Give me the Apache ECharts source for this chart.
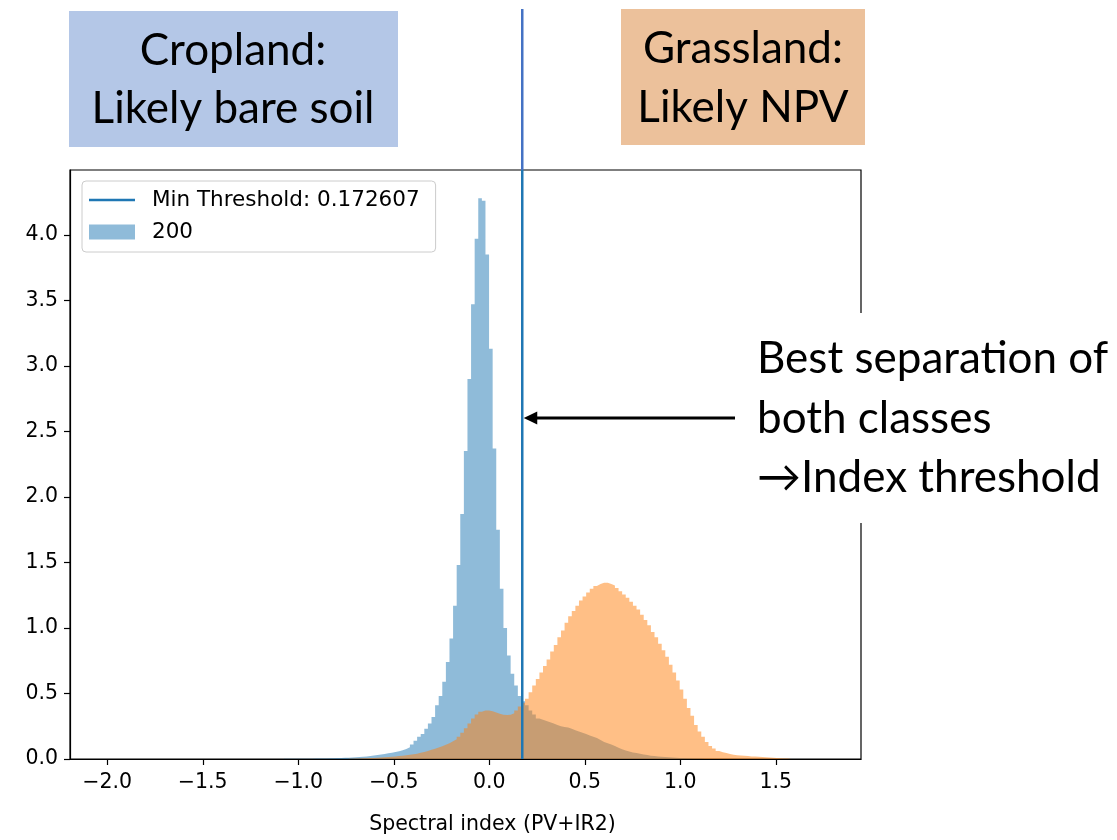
<!DOCTYPE html>
<html>
<head>
<meta charset="utf-8">
<script src="https://cdn.jsdelivr.net/npm/echarts@6/dist/echarts.min.js"></script>
<style>
  html, body { margin: 0; padding: 0; background: #fff; }
  #main { width: 1117px; height: 840px; }
</style>
</head>
<body>
<div id="main"></div>
<script>
// histogram bins (200 bins over the data range)
const binStart = -2.016;
const binWidth = 0.01883;

// cropland (blue) density, starting at bin 50
const blueFirstBin = 50;
const blueDensity = [
  0.001, 0.001, 0.001, 0.001, 0.002, 0.002, 0.002, 0.002, 0.003, 0.003,
  0.004, 0.004, 0.005, 0.006, 0.007, 0.008, 0.009, 0.010, 0.012, 0.014,
  0.016, 0.018, 0.020, 0.023, 0.026, 0.030, 0.034, 0.038, 0.043, 0.048,
  0.054, 0.060, 0.067, 0.076, 0.090, 0.110, 0.140, 0.170, 0.190, 0.230,
  0.27, 0.32, 0.41, 0.48, 0.59, 0.74, 0.92, 1.17, 1.48, 1.87,
  2.35, 2.90, 3.47, 3.97, 4.28, 4.26, 3.85, 3.13, 2.37, 1.75,
  1.30, 1.00, 0.79, 0.65, 0.56, 0.48, 0.44, 0.41, 0.37, 0.34,
  0.31, 0.30, 0.29, 0.28, 0.27, 0.26, 0.25, 0.245, 0.24, 0.23,
  0.22, 0.21, 0.20, 0.19, 0.18, 0.17, 0.16, 0.145, 0.13, 0.12,
  0.11, 0.10, 0.085, 0.075, 0.065, 0.057, 0.050, 0.045, 0.040, 0.035,
  0.030, 0.025, 0.022, 0.020, 0.017, 0.015, 0.013, 0.011, 0.010, 0.008,
  0.007, 0.006, 0.005, 0.004, 0.003, 0.003, 0.002
];

// grassland (orange) density, starting at bin 68
const orangeFirstBin = 68;
const orangeDensity = [
  0.002, 0.003, 0.004, 0.005, 0.006, 0.007, 0.008, 0.010, 0.011, 0.013,
  0.015, 0.017, 0.020, 0.022, 0.025, 0.028, 0.032, 0.036, 0.041, 0.047,
  0.054, 0.062, 0.070, 0.078, 0.087, 0.097, 0.108, 0.120, 0.135, 0.150,
  0.17, 0.20, 0.235, 0.27, 0.31, 0.34, 0.36, 0.37, 0.37, 0.365,
  0.355, 0.345, 0.337, 0.335, 0.337, 0.35, 0.37, 0.40, 0.43, 0.46,
  0.51, 0.56, 0.61, 0.66, 0.71, 0.76, 0.82, 0.87, 0.93, 0.98,
  1.04, 1.09, 1.13, 1.17, 1.21, 1.24, 1.27, 1.30, 1.32, 1.335,
  1.345, 1.345, 1.335, 1.325, 1.305, 1.28, 1.255, 1.23, 1.20, 1.17,
  1.14, 1.10, 1.06, 1.02, 0.97, 0.93, 0.88, 0.83, 0.78, 0.72,
  0.66, 0.60, 0.53, 0.46, 0.39, 0.33, 0.26, 0.21, 0.17, 0.13,
  0.10, 0.08, 0.062, 0.052, 0.045, 0.038, 0.033, 0.029, 0.026, 0.024,
  0.022, 0.020, 0.019, 0.017, 0.015, 0.014, 0.012, 0.010, 0.008, 0.006,
  0.004, 0.003, 0.002
];

const threshold = 0.172607;
const xTicks = [-2.0, -1.5, -1.0, -0.5, 0.0, 0.5, 1.0, 1.5];
const yTicks = [0.0, 0.5, 1.0, 1.5, 2.0, 2.5, 3.0, 3.5, 4.0];
const xMin = -2.195, xMax = 1.946;
const yMax = 4.495;

// step outline: one point per bin left edge, plus closing edge
function stepData(firstBin, vals) {
  const pts = vals.map((v, i) => [binStart + (firstBin + i) * binWidth, v]);
  pts.push([binStart + (firstBin + vals.length) * binWidth, 0]);
  return pts;
}

const mplFont = 'DejaVu Sans';
const slideFont = '44px Lato';

var myChart = echarts.init(document.getElementById('main'));

const fmt = v => (v < 0 ? '\u2212' : '') + Math.abs(v).toFixed(1);

myChart.setOption({
  animation: false,
  backgroundColor: '#fff',
  grid: { left: 70, right: 256, top: 170, bottom: 80, show: true, borderColor: '#000', borderWidth: 1.2, backgroundColor: 'transparent' },
  legend: {
    orient: 'vertical',
    left: 82,
    top: 181,
    padding: [8, 16, 9, 7],
    itemGap: 10,
    itemWidth: 46,
    itemHeight: 15,
    backgroundColor: 'rgba(255,255,255,0.85)',
    borderColor: '#cccccc',
    borderWidth: 1,
    borderRadius: 4,
    selectedMode: false,
    textStyle: { fontFamily: mplFont, fontSize: 21.5, color: '#000', padding: [0, 0, 0, 12], lineHeight: 22 },
    data: [
      { name: 'Min Threshold: ' + threshold, icon: 'path://M0,0H46V2.5H0Z', itemStyle: { color: '#1f77b4' } },
      { name: '200', icon: 'rect', itemStyle: { color: 'rgba(31,119,180,0.5)', opacity: 1 } }
    ]
  },
  xAxis: {
    type: 'value',
    min: xMin,
    max: xMax,
    name: 'Spectral index (PV+IR2)',
    nameLocation: 'middle',
    nameGap: 55,
    nameTextStyle: { fontFamily: mplFont, fontSize: 20.5, color: '#000', padding: [0, 0, 0, 54] },
    axisLine: { show: true, onZero: false, lineStyle: { color: '#000', width: 1.2 } },
    axisTick: { show: true, inside: false, length: 6, customValues: xTicks, lineStyle: { color: '#000', width: 1.2 } },
    axisLabel: { show: true, margin: 13, customValues: xTicks, formatter: fmt, fontFamily: mplFont, fontSize: 20.5, color: '#000' },
    splitLine: { show: false }
  },
  yAxis: {
    type: 'value',
    min: 0,
    max: yMax,
    axisLine: { show: true, onZero: false, lineStyle: { color: '#000', width: 1.2 } },
    axisTick: { show: true, inside: false, length: 6, customValues: yTicks, lineStyle: { color: '#000', width: 1.2 } },
    axisLabel: { show: true, margin: 12, customValues: yTicks, formatter: fmt, fontFamily: mplFont, fontSize: 20.5, color: '#000' },
    splitLine: { show: false }
  },
  series: [
    {
      name: '200',
      type: 'line',
      step: 'end',
      symbol: 'none',
      silent: true,
      color: '#1f77b4',
      lineStyle: { width: 0, opacity: 0 },
      areaStyle: { color: '#1f77b4', opacity: 0.5 },
      data: stepData(blueFirstBin, blueDensity),
      z: 1
    },
    {
      name: 'grassland',
      type: 'line',
      step: 'end',
      symbol: 'none',
      silent: true,
      color: '#ff7f0e',
      lineStyle: { width: 0, opacity: 0 },
      areaStyle: { color: '#ff7f0e', opacity: 0.5 },
      data: stepData(orangeFirstBin, orangeDensity),
      z: 2
    },
    {
      name: 'Min Threshold: ' + threshold,
      type: 'line',
      symbol: 'none',
      silent: true,
      color: '#1f77b4',
      lineStyle: { color: '#1f77b4', width: 2.5 },
      data: [[threshold, 0], [threshold, yMax]],
      z: 3
    }
  ]
});

// slide annotations around the plot
const thrX = myChart.convertToPixel({ xAxisIndex: 0 }, threshold);
const arrowY = 418;

myChart.setOption({
  graphic: [
    // threshold line carried up above the plot
    { type: 'line', z: 10, shape: { x1: thrX, y1: 9, x2: thrX, y2: 170 }, style: { stroke: '#4472c4', lineWidth: 2.5 } },
    // cropland box
    { type: 'rect', z: 10, shape: { x: 69, y: 11, width: 329, height: 136 }, style: { fill: '#b4c7e7' } },
    { type: 'text', z: 11, x: 233, y: 51, style: { text: 'Cropland:', font: slideFont, fill: '#000', align: 'center', verticalAlign: 'middle' } },
    { type: 'text', z: 11, x: 233, y: 109, style: { text: 'Likely bare soil', font: slideFont, fill: '#000', align: 'center', verticalAlign: 'middle' } },
    // grassland box
    { type: 'rect', z: 10, shape: { x: 621, y: 9, width: 244, height: 136 }, style: { fill: '#ecc19b' } },
    { type: 'text', z: 11, x: 743, y: 49, style: { text: 'Grassland:', font: slideFont, fill: '#000', align: 'center', verticalAlign: 'middle' } },
    { type: 'text', z: 11, x: 743, y: 108, style: { text: 'Likely NPV', font: slideFont, fill: '#000', align: 'center', verticalAlign: 'middle' } },
    // right text box (white, hides part of the spine)
    { type: 'rect', z: 10, shape: { x: 745, y: 313, width: 372, height: 210 }, style: { fill: '#fff' } },
    { type: 'text', z: 11, x: 757, y: 359, style: { text: 'Best separation of', font: slideFont, fill: '#000', align: 'left', verticalAlign: 'middle' } },
    { type: 'text', z: 11, x: 757, y: 419, style: { text: 'both classes', font: slideFont, fill: '#000', align: 'left', verticalAlign: 'middle' } },
    { type: 'text', z: 11, x: 757, y: 478, style: { text: '\u2192Index threshold', font: slideFont, fill: '#000', align: 'left', verticalAlign: 'middle' } },
    // arrow to the threshold line
    { type: 'line', z: 10, shape: { x1: 735, y1: arrowY, x2: thrX + 10, y2: arrowY }, style: { stroke: '#000', lineWidth: 3 } },
    { type: 'polygon', z: 10, shape: { points: [[thrX + 1.5, arrowY], [thrX + 15, arrowY - 6.5], [thrX + 15, arrowY + 6.5]] }, style: { fill: '#000' } }
  ]
});
</script>
</body>
</html>
